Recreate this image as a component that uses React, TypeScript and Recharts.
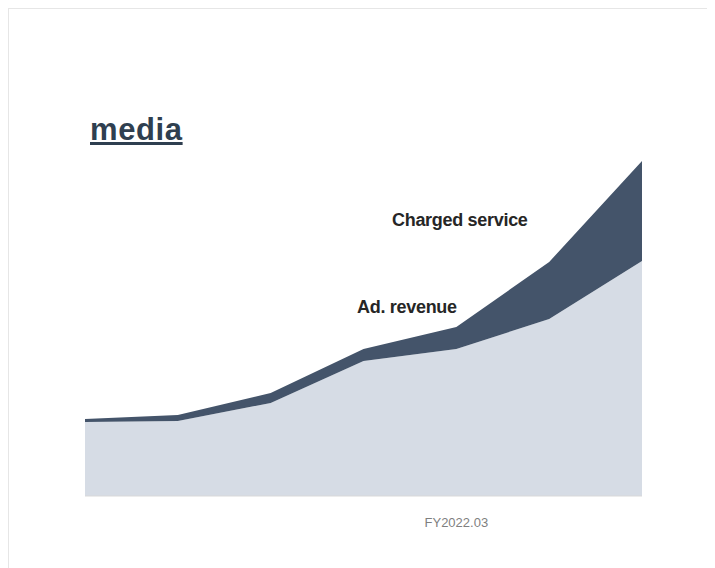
import React from 'react';
import { AreaChart, Area, XAxis, YAxis } from 'recharts';

const periods = ['FY2018.03', 'FY2019.03', 'FY2020.03', 'FY2021.03', 'FY2022.03', 'FY2023.03', 'FY2024.03'];
const adRevenue = [74, 75, 93, 135, 147, 177, 235];
const chargedService = [3, 6, 10, 12, 22, 57, 100];
const shownTicks = ['FY2022.03'];

const data = periods.map((p, i) => ({ name: p, ad: adRevenue[i], charged: chargedService[i] }));

const FONT = '"Liberation Sans", Arial, sans-serif';

const labelStyle: React.CSSProperties = {
  position: 'absolute',
  fontFamily: FONT,
  fontWeight: 'bold',
  fontSize: 18,
  letterSpacing: -0.3,
  color: '#262626',
  whiteSpace: 'nowrap',
  lineHeight: '18px',
};

export default function App() {
  return (
    <div
      style={{
        position: 'relative',
        width: 707,
        height: 560,
        boxSizing: 'border-box',
        borderTop: '1px solid #e6e6e6',
        borderLeft: '1px solid #e6e6e6',
        background: '#fff',
      }}
    >
      <AreaChart
        width={706}
        height={559}
        data={data}
        margin={{ top: 151, right: 73, left: 76, bottom: 42 }}
      >
        <XAxis
          dataKey="name"
          ticks={shownTicks}
          height={30}
          tickLine={false}
          tickSize={0}
          tickMargin={22}
          axisLine={{ stroke: '#d9d9d9' }}
          tick={{ fill: '#7f7f7f', fontSize: 13, fontFamily: FONT }}
        />
        <YAxis hide domain={[0, 336]} />
        <Area
          type="linear"
          dataKey="ad"
          stackId="1"
          stroke="none"
          fill="#D6DCE5"
          fillOpacity={1}
          isAnimationActive={false}
        />
        <Area
          type="linear"
          dataKey="charged"
          stackId="1"
          stroke="none"
          fill="#44546A"
          fillOpacity={1}
          isAnimationActive={false}
        />
      </AreaChart>
      <div
        style={{
          position: 'absolute',
          left: 81,
          top: 104,
          fontFamily: FONT,
          fontWeight: 'bold',
          fontSize: 31,
          letterSpacing: 0.6,
          color: '#2F3F50',
          textDecoration: 'underline',
          lineHeight: '34px',
        }}
      >
        media
      </div>
      <div style={{ ...labelStyle, left: 383, top: 202 }}>Charged service</div>
      <div style={{ ...labelStyle, left: 348, top: 289 }}>Ad. revenue</div>
    </div>
  );
}
